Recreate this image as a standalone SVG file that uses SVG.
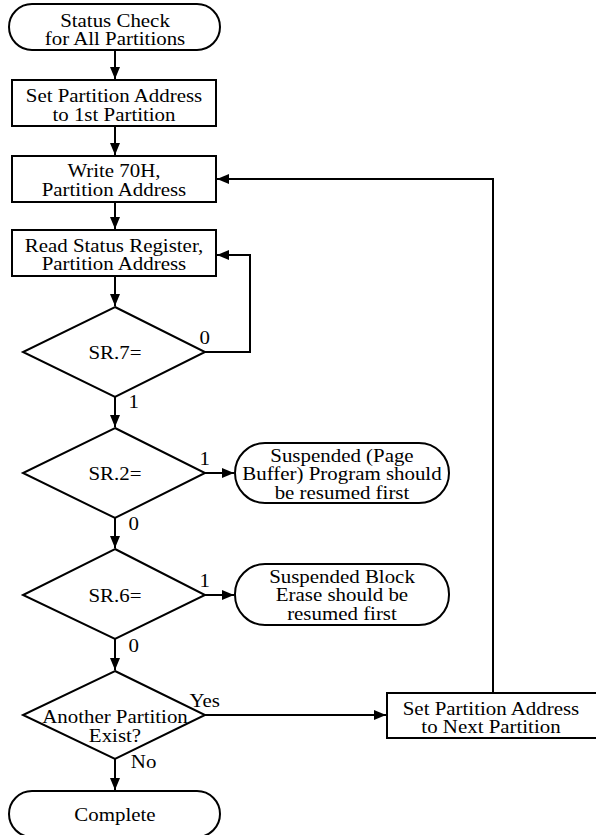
<svg xmlns="http://www.w3.org/2000/svg" width="596" height="835" viewBox="0 0 596 835">
<defs>
<marker id="ah" viewBox="0 0 12 10" refX="12" refY="5" markerWidth="12" markerHeight="10" markerUnits="userSpaceOnUse" orient="auto">
<path d="M0,0 L12,5 L0,10 Z" fill="#000"/>
</marker>
<style>
.s{fill:#fff;stroke:#000;stroke-width:2}
text{font-family:'Liberation Serif','DejaVu Serif',serif;font-size:19px;fill:#000;transform-box:fill-box;transform-origin:center;transform:scaleX(1.1)}
.t{text-anchor:middle}
.c{fill:none;stroke:#000;stroke-width:2}
</style>
</defs>
<rect width="596" height="835" fill="#fff"/>
<g id="connectors">
<path class="c" d="M115,50 V79" marker-end="url(#ah)"/>
<path class="c" d="M115,126 V155" marker-end="url(#ah)"/>
<path class="c" d="M115,202 V229" marker-end="url(#ah)"/>
<path class="c" d="M115,276 V306" marker-end="url(#ah)"/>
<path class="c" d="M205,352 H250 V255 H217" marker-end="url(#ah)"/>
<path class="c" d="M115,397 V427" marker-end="url(#ah)"/>
<path class="c" d="M205,473 H234" marker-end="url(#ah)"/>
<path class="c" d="M115,518 V548" marker-end="url(#ah)"/>
<path class="c" d="M205,595 H234" marker-end="url(#ah)"/>
<path class="c" d="M115,639 V670" marker-end="url(#ah)"/>
<path class="c" d="M205,715 H386" marker-end="url(#ah)"/>
<path class="c" d="M115,759 V790" marker-end="url(#ah)"/>
<path class="c" d="M493,693 V179 H217" marker-end="url(#ah)"/>
<text x="200" y="344">0</text>
<text x="129" y="408">1</text>
<text x="200" y="465">1</text>
<text x="129" y="530">0</text>
<text x="200" y="587">1</text>
<text x="129" y="652">0</text>
<text x="191" y="707">Yes</text>
<text x="132" y="768">No</text>
</g>
<g id="start">
<rect class="s" x="9" y="4" width="211" height="46" rx="23" ry="23"/>
<text class="t" x="115" y="27">Status Check</text>
<text class="t" x="115" y="45.5">for All Partitions</text>
</g>
<g id="set-first">
<rect class="s" x="12" y="80" width="204" height="46"/>
<text class="t" x="114" y="102.5">Set Partition Address</text>
<text class="t" x="114" y="121">to 1st Partition</text>
</g>
<g id="write70h">
<rect class="s" x="12" y="156" width="204" height="46"/>
<text class="t" x="114" y="177.5">Write 70H,</text>
<text class="t" x="114" y="196.5">Partition Address</text>
</g>
<g id="read-status">
<rect class="s" x="12" y="230" width="204" height="46"/>
<text class="t" x="114" y="252">Read Status Register,</text>
<text class="t" x="114" y="270.5">Partition Address</text>
</g>
<g id="sr7">
<polygon class="s" points="115,307 205,352 115,397 23,352"/>
<text class="t" x="115" y="359">SR.7=</text>
</g>
<g id="sr2">
<polygon class="s" points="115,428 205,473 115,518 23,473"/>
<text class="t" x="115" y="480">SR.2=</text>
</g>
<g id="suspended-program">
<rect class="s" x="235" y="443" width="214" height="60" rx="30" ry="30"/>
<text class="t" x="342" y="462">Suspended (Page</text>
<text class="t" x="342" y="480.5">Buffer) Program should</text>
<text class="t" x="342" y="499">be resumed first</text>
</g>
<g id="sr6">
<polygon class="s" points="115,549 205,595 115,639 23,595"/>
<text class="t" x="115" y="602">SR.6=</text>
</g>
<g id="suspended-erase">
<rect class="s" x="235" y="564" width="214" height="61" rx="30" ry="30"/>
<text class="t" x="342" y="583">Suspended Block</text>
<text class="t" x="342" y="601.5">Erase should be</text>
<text class="t" x="342" y="620">resumed first</text>
</g>
<g id="another">
<polygon class="s" points="115,671 205,715 115,759 23,715"/>
<text class="t" x="115" y="723">Another Partition</text>
<text class="t" x="115" y="742">Exist?</text>
</g>
<g id="set-next">
<rect class="s" x="387" y="693" width="212" height="45"/>
<text class="t" x="491" y="715">Set Partition Address</text>
<text class="t" x="491" y="733.5">to Next Partition</text>
</g>
<g id="complete">
<rect class="s" x="9" y="791" width="211" height="46" rx="23" ry="23"/>
<text class="t" x="115" y="821">Complete</text>
</g>
</svg>
